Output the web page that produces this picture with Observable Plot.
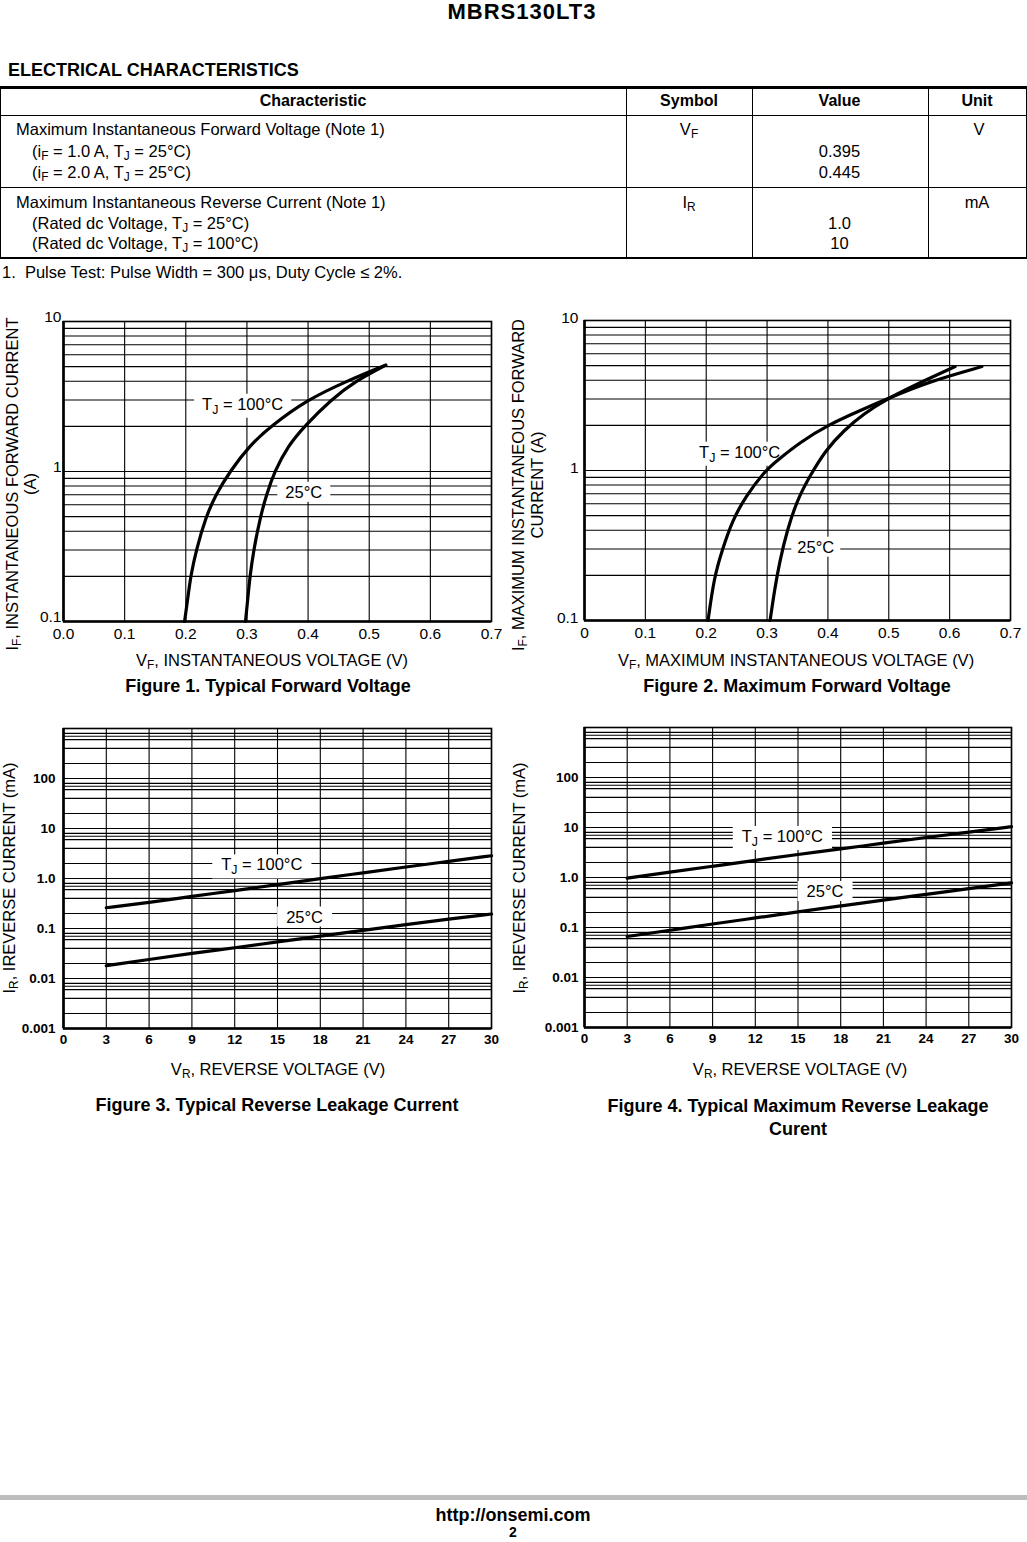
<!DOCTYPE html>
<html><head><meta charset="utf-8">
<script src="https://cdn.jsdelivr.net/npm/d3@7"></script>
<script src="https://cdn.jsdelivr.net/npm/@observablehq/plot@0.6"></script>
<style>
body{margin:0;background:#fff;font-family:"Liberation Sans",Arial,Helvetica,sans-serif;color:#000}
#page{position:relative;width:1027px;height:1542px;overflow:hidden;background:#fff}
.abs{position:absolute;white-space:nowrap}
sub{font-size:0.72em;vertical-align:-0.28em;line-height:0}
.ln{position:absolute;background:#000}
.chart{position:absolute}
</style></head>
<body><div id="page"></div>
<script>
// ---------------- DATA ----------------
// Figure 1: typical forward voltage
const fig1I100 = [0.1,0.15,0.2,0.3,0.5,0.7,1.0,1.5,2.0,3.0,4.0,5.12];
const fig1V100 = [0.198,0.204,0.208,0.217,0.233,0.249,0.272,0.305,0.339,0.398,0.463,0.527];
const fig1I25  = [0.1,0.15,0.2,0.3,0.5,0.7,1.0,1.5,2.0,3.0,4.0,5.12];
const fig1V25  = [0.2976,0.302,0.305,0.311,0.322,0.332,0.345,0.368,0.394,0.437,0.477,0.527];
// Figure 2: maximum forward voltage
const fig2V100 = [0.203,0.213,0.226,0.243,0.264,0.297,0.317,0.355,0.399,0.453,0.497,0.563,0.653];
const fig2I100 = [0.1,0.194,0.293,0.464,0.664,1.0,1.17,1.55,2.0,2.51,3.0,3.88,4.93];
const fig2V25  = [0.305,0.312,0.321,0.333,0.349,0.371,0.396,0.426,0.459,0.497,0.547,0.609];
const fig2I25  = [0.1,0.158,0.251,0.398,0.631,0.93,1.36,1.85,2.39,3.0,3.78,4.93];
// Figures 3 & 4: reverse current vs reverse voltage
const revVR    = [3,6,9,12,15,18,21,24,27,30];
const fig3I100 = [0.26,0.33,0.44,0.57,0.76,0.99,1.3,1.7,2.2,2.85];
const fig3I25  = [0.018,0.024,0.032,0.041,0.054,0.070,0.092,0.12,0.155,0.195];
const fig4I100 = [0.97,1.28,1.68,2.2,2.9,3.7,4.9,6.3,8.1,10.4];
const fig4I25  = [0.066,0.088,0.118,0.155,0.205,0.27,0.355,0.46,0.6,0.78];
// ticks
const fwdXTicks   = [0,0.1,0.2,0.3,0.4,0.5,0.6,0.7];
const fig1XLabels = ["0.0","0.1","0.2","0.3","0.4","0.5","0.6","0.7"];
const fig2XLabels = ["0","0.1","0.2","0.3","0.4","0.5","0.6","0.7"];
const fwdYTicks   = [10,1,0.1];
const fwdYLabels  = ["10","1","0.1"];
const fwdDecades  = [0.1,1];
const fwdMinor    = [1,2,3,4,5,6,7,8,9];
const revXTicks   = [0,3,6,9,12,15,18,21,24,27,30];
const revXLabels  = ["0","3","6","9","12","15","18","21","24","27","30"];
const revYTicks   = [100,10,1,0.1,0.01,0.001];
const revYLabels  = ["100","10","1.0","0.1","0.01","0.001"];
const revDecades  = [0.001,0.01,0.1,1,10,100];
const revMinor    = [1,2,4,6,7,8];
// curve labels
const seriesNames = ["T_J = 100°C","25°C"];
const fig1LabelX = [0.293,0.393], fig1LabelY = [2.8,0.724];
const fig2LabelX = [0.255,0.38],  fig2LabelY = [1.32,0.307];
const fig3LabelX = [13.9,16.9],   fig3LabelY = [1.85,0.168];
const fig4LabelX = [13.9,16.9],   fig4LabelY = [6.55,0.52];
// table
const tableHeaders = ["Characteristic","Symbol","Value","Unit"];

// ---------------- PAGE HELPERS ----------------
const FONT = '"Liberation Sans", Arial, Helvetica, sans-serif';
const page = document.getElementById("page");
function put(html, x, y, o = {}) {
  const d = document.createElement("div");
  d.className = "abs";
  d.innerHTML = html;
  const size = o.size || 16.5;
  d.style.fontSize = size + "px";
  d.style.lineHeight = (o.lh || Math.round(size * 1.15)) + "px";
  if (o.bold) d.style.fontWeight = "bold";
  if (o.ls) d.style.letterSpacing = o.ls + "px";
  d.style.left = x + "px"; d.style.top = y + "px";
  const tx = o.anchor === "middle" ? "-50%" : o.anchor === "end" ? "-100%" : "0";
  d.style.transform = (o.rotate ? "translate(-50%,-50%) rotate(-90deg)" : `translate(${tx},-50%)`);
  if (o.anchor === "middle" || o.rotate) d.style.textAlign = "center";
  page.appendChild(d);
  return d;
}
function line(x, y, w, h, color) {
  const d = document.createElement("div");
  d.className = "ln";
  Object.assign(d.style, {left: x + "px", top: y + "px", width: w + "px", height: h + "px"});
  if (color) d.style.background = color;
  page.appendChild(d);
}

// ---------------- HEADER + TABLE ----------------
put("MBRS130LT3", 522, 11, {size: 22, bold: true, anchor: "middle", lh: 21, ls: 1});
put("ELECTRICAL CHARACTERISTICS", 8, 70, {size: 18, bold: true});
line(0, 86, 1027, 2.5);
line(0, 115, 1027, 1.2);
line(0, 187, 1027, 1.2);
line(0, 256.5, 1027, 2.5);
line(0, 86, 1.2, 172);
line(1025.5, 86, 1.5, 172);
line(625.5, 86, 1.2, 172);
line(751.5, 86, 1.2, 172);
line(927.5, 86, 1.2, 172);
const colCenters = [313, 689, 839.5, 977];
tableHeaders.forEach((h, i) => put(h, colCenters[i], 101, {size: 16, bold: true, anchor: "middle"}));
put("Maximum Instantaneous Forward Voltage (Note 1)", 16, 129);
put("(i<sub>F</sub> = 1.0 A, T<sub>J</sub> = 25°C)", 32, 150.5);
put("(i<sub>F</sub> = 2.0 A, T<sub>J</sub> = 25°C)", 32, 171.5);
put("V<sub>F</sub>", 689, 129, {anchor: "middle"});
put("0.395", 839.5, 150.5, {anchor: "middle"});
put("0.445", 839.5, 171.5, {anchor: "middle"});
put("V", 979, 129, {anchor: "middle"});
put("Maximum Instantaneous Reverse Current (Note 1)", 16, 201.5);
put("(Rated dc Voltage, T<sub>J</sub> = 25°C)", 32, 222.5);
put("(Rated dc Voltage, T<sub>J</sub> = 100°C)", 32, 243);
put("I<sub>R</sub>", 689, 201.5, {anchor: "middle"});
put("1.0", 839.5, 222.5, {anchor: "middle"});
put("10", 839.5, 243, {anchor: "middle"});
put("mA", 977, 201.5, {anchor: "middle"});
put("1.&nbsp;&nbsp;Pulse Test: Pulse Width = 300 μs, Duty Cycle ≤ 2%.", 2, 272);

// ---------------- CHARTS ----------------
const NS = "http://www.w3.org/2000/svg";
function makeChart(cfg) {
  const data = [];
  cfg.series.forEach(s => s.x.forEach((xv, i) => data.push({x: xv, y: s.y[i], name: s.name})));
  const labels = seriesNames.map((t, i) => ({x: cfg.labelX[i], y: cfg.labelY[i], text: t}));
  const yGrid = cfg.decades.flatMap(d => cfg.minor.map(m => d * m)).concat([cfg.yDomain[1]]);
  const xMap = new Map(cfg.xTicks.map((v, i) => [v, cfg.xLabels[i]]));
  const yMap = new Map(cfg.yTicks.map((v, i) => [v, cfg.yLabels[i]]));
  const plot = Plot.plot({
    width: cfg.w, height: cfg.h,
    marginLeft: cfg.mL, marginRight: cfg.mR, marginTop: cfg.mT, marginBottom: cfg.mB,
    style: {fontFamily: FONT, fontSize: cfg.tickFont + "px", color: "#000", background: "transparent", overflow: "visible"},
    x: {domain: cfg.xDomain, label: null},
    y: {type: "log", domain: cfg.yDomain, label: null},
    marks: [
      Plot.ruleY(yGrid, {stroke: "#000", strokeWidth: 1.1}),
      Plot.ruleX(cfg.xTicks, {stroke: "#000", strokeWidth: 1.1}),
      Plot.text(labels, {x: "x", y: "y", text: "text", fontSize: 16.5, fill: "#000"}),
      Plot.frame({stroke: "#000", strokeWidth: 1.6}),
      Plot.ruleX([cfg.xDomain[0]], {stroke: "#000", strokeWidth: 2.6}),
      Plot.ruleY([cfg.yDomain[0]], {stroke: "#000", strokeWidth: 2.6}),
      Plot.axisX(cfg.xTicks, {tickSize: 0, tickPadding: cfg.xPad, tickFormat: d => xMap.get(d), fontSize: cfg.tickFont, fontWeight: cfg.tickWeight, label: null}),
      Plot.axisY(cfg.yTicks, {tickSize: 0, tickPadding: cfg.yPad, tickFormat: d => yMap.get(d), dy: cfg.yDy, fontSize: cfg.tickFont, fontWeight: cfg.tickWeight, label: null}),
      Plot.line(data, {x: "x", y: "y", z: "name", stroke: "#000", strokeWidth: 3.2, curve: "basis", strokeLinecap: "round"})
    ]
  });
  const wrap = document.createElement("div");
  wrap.className = "chart";
  wrap.style.left = cfg.left + "px"; wrap.style.top = cfg.top + "px";
  wrap.appendChild(plot);
  page.appendChild(wrap);
  // subscripts and white boxes behind the curve labels
  plot.querySelectorAll('g[aria-label="text"] text').forEach(t => {
    const s = t.textContent;
    if (s.includes("_")) {
      const [a, rest] = s.split("_");
      t.textContent = "";
      const t1 = document.createElementNS(NS, "tspan"); t1.textContent = a;
      const t2 = document.createElementNS(NS, "tspan"); t2.textContent = rest[0];
      t2.setAttribute("font-size", "0.75em"); t2.setAttribute("dy", "4");
      const t3 = document.createElementNS(NS, "tspan"); t3.textContent = rest.slice(1); t3.setAttribute("dy", "-4");
      t.append(t1, t2, t3);
    }
    const b = t.getBBox();
    const r = document.createElementNS(NS, "rect");
    r.setAttribute("x", b.x - cfg.padX); r.setAttribute("y", b.y - 1);
    r.setAttribute("width", b.width + 2 * cfg.padX); r.setAttribute("height", b.height + 2);
    r.setAttribute("fill", "#fff");
    const tr = t.getAttribute("transform"); if (tr) r.setAttribute("transform", tr);
    t.parentNode.insertBefore(r, t);
  });
}

makeChart({left: 0, top: 300, w: 500, h: 350, mL: 63, mR: 9, mT: 21, mB: 29,
  xDomain: [0, 0.7], yDomain: [0.1, 10], xTicks: fwdXTicks, xLabels: fig1XLabels,
  yTicks: fwdYTicks, yLabels: fwdYLabels, decades: fwdDecades, minor: fwdMinor,
  xPad: 6, yPad: 2, yDy: -4, tickFont: 15.5, tickWeight: "normal", padX: 8,
  labelX: fig1LabelX, labelY: fig1LabelY,
  series: [{name: "100", x: fig1V100, y: fig1I100}, {name: "25", x: fig1V25, y: fig1I25}]});
makeChart({left: 510, top: 300, w: 517, h: 350, mL: 74, mR: 17, mT: 20, mB: 30,
  xDomain: [0, 0.7], yDomain: [0.1, 10], xTicks: fwdXTicks, xLabels: fig2XLabels,
  yTicks: fwdYTicks, yLabels: fwdYLabels, decades: fwdDecades, minor: fwdMinor,
  xPad: 6, yPad: 6, yDy: -2, tickFont: 15.5, tickWeight: "normal", padX: 6,
  labelX: fig2LabelX, labelY: fig2LabelY,
  series: [{name: "100", x: fig2V100, y: fig2I100}, {name: "25", x: fig2V25, y: fig2I25}]});
makeChart({left: 0, top: 700, w: 500, h: 360, mL: 63, mR: 9, mT: 28, mB: 32,
  xDomain: [0, 30], yDomain: [0.001, 1000], xTicks: revXTicks, xLabels: revXLabels,
  yTicks: revYTicks, yLabels: revYLabels, decades: revDecades, minor: revMinor,
  xPad: 6, yPad: 8, yDy: 0, tickFont: 13.5, tickWeight: "bold", padX: 9,
  labelX: fig3LabelX, labelY: fig3LabelY,
  series: [{name: "100", x: revVR, y: fig3I100}, {name: "25", x: revVR, y: fig3I25}]});
makeChart({left: 510, top: 700, w: 517, h: 360, mL: 74, mR: 16, mT: 27, mB: 33,
  xDomain: [0, 30], yDomain: [0.001, 1000], xTicks: revXTicks, xLabels: revXLabels,
  yTicks: revYTicks, yLabels: revYLabels, decades: revDecades, minor: revMinor,
  xPad: 6, yPad: 6, yDy: 0, tickFont: 13.5, tickWeight: "bold", padX: 9,
  labelX: fig4LabelX, labelY: fig4LabelY,
  series: [{name: "100", x: revVR, y: fig4I100}, {name: "25", x: revVR, y: fig4I25}]});

// ---------------- AXIS TITLES + CAPTIONS ----------------
put("I<sub>F</sub>, INSTANTANEOUS FORWARD CURRENT<br>(A)", 21, 484, {rotate: true, lh: 18});
put("V<sub>F</sub>, INSTANTANEOUS VOLTAGE (V)", 272, 660, {anchor: "middle"});
put("Figure 1. Typical Forward Voltage", 268, 686, {size: 18, bold: true, anchor: "middle"});
put("I<sub>F</sub>, MAXIMUM INSTANTANEOUS FORWARD<br>CURRENT (A)", 527.5, 485, {rotate: true, lh: 19});
put("V<sub>F</sub>, MAXIMUM INSTANTANEOUS VOLTAGE (V)", 796, 660, {anchor: "middle"});
put("Figure 2. Maximum Forward Voltage", 797, 686, {size: 18, bold: true, anchor: "middle"});
put("I<sub>R</sub>, IREVERSE CURRENT (mA)", 8.5, 878, {rotate: true});
put("V<sub>R</sub>, REVERSE VOLTAGE (V)", 278, 1069, {anchor: "middle"});
put("Figure 3. Typical Reverse Leakage Current", 277, 1105, {size: 18, bold: true, anchor: "middle"});
put("I<sub>R</sub>, IREVERSE CURRENT (mA)", 518.5, 878, {rotate: true});
put("V<sub>R</sub>, REVERSE VOLTAGE (V)", 800, 1069, {anchor: "middle"});
put("Figure 4. Typical Maximum Reverse Leakage<br>Curent", 798, 1118, {size: 18, bold: true, anchor: "middle", lh: 23});

// ---------------- FOOTER ----------------
line(0, 1495, 1027, 5, "#bdbdbd");
put("http://onsemi.com", 513, 1515, {size: 18, bold: true, anchor: "middle"});
put("2", 513, 1532, {size: 14, bold: true, anchor: "middle"});
</script>
</body></html>
